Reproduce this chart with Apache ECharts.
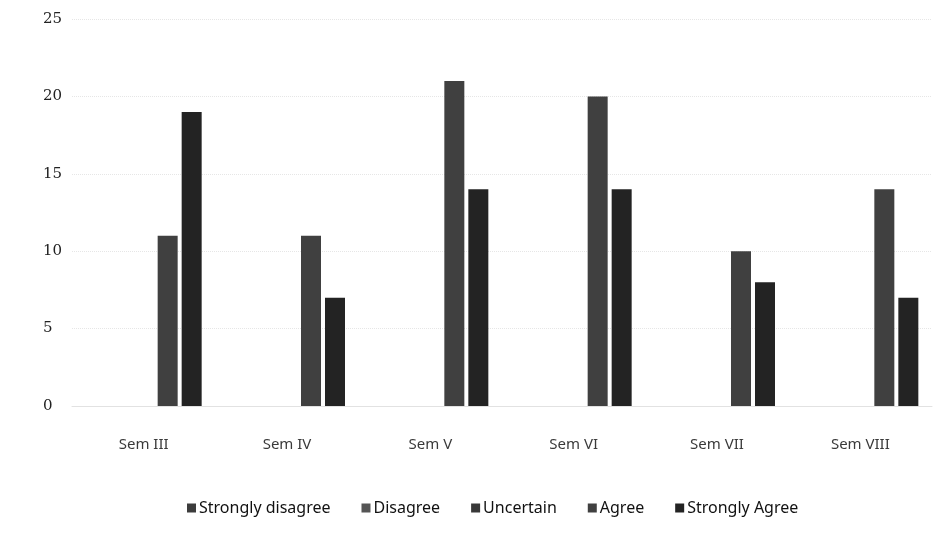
<!DOCTYPE html>
<html>
<head>
<meta charset="utf-8">
<script src="https://cdn.jsdelivr.net/npm/echarts@6/dist/echarts.min.js"></script>
<style>
  html, body { margin: 0; padding: 0; background: #ffffff; }
  #chart { width: 945px; height: 542px; }
</style>
</head>
<body>
<div id="chart"></div>
<script>
// Semesters on the category axis
const semesters = ['Sem III', 'Sem IV', 'Sem V', 'Sem VI', 'Sem VII', 'Sem VIII'];

// Responses per semester for each Likert level
const stronglyDisagree = [0, 0, 0, 0, 0, 0];
const disagree         = [0, 0, 0, 0, 0, 0];
const uncertain        = [0, 0, 0, 0, 0, 0];
const agree            = [11, 11, 21, 20, 10, 14];
const stronglyAgree    = [19, 7, 14, 14, 8, 7];

// Value axis ticks
const yTicks = [0, 5, 10, 15, 20, 25];

const seriesDefs = [
  { name: 'Strongly disagree', data: stronglyDisagree, color: '#3c3c3c' },
  { name: 'Disagree',          data: disagree,         color: '#555555' },
  { name: 'Uncertain',         data: uncertain,        color: '#383838' },
  { name: 'Agree',             data: agree,            color: '#404040' },
  { name: 'Strongly Agree',    data: stronglyAgree,    color: '#232323' }
];

const chart = echarts.init(document.getElementById('chart'), null, { renderer: 'canvas' });

chart.setOption({
  backgroundColor: '#ffffff',
  animation: false,
  grid: { left: 72, right: 13, top: 19, bottom: 136 },
  legend: {
    bottom: 21,
    left: 182,
    icon: 'rect',
    itemWidth: 9,
    itemHeight: 9,
    itemGap: 31,
    textStyle: { fontFamily: 'Noto Sans', fontSize: 16, color: '#111111', padding: [0, 0, 0, -2] },
    data: seriesDefs.map(s => s.name)
  },
  xAxis: {
    type: 'category',
    data: semesters,
    axisLine: { show: true, lineStyle: { color: '#e2e2e2', width: 1 } },
    axisTick: { show: false },
    axisLabel: { margin: 31, fontFamily: 'Noto Sans', fontSize: 15, color: '#3a3a3a' }
  },
  yAxis: {
    type: 'value',
    min: yTicks[0],
    max: yTicks[yTicks.length - 1],
    interval: yTicks[1] - yTicks[0],
    axisLine: { show: false },
    axisTick: { show: false },
    axisLabel: {
      align: 'left',
      margin: 29,
      fontFamily: 'DejaVu Serif',
      fontSize: 15,
      color: '#222222'
    },
    splitLine: { show: true, lineStyle: { color: '#e6e6e6', type: 'dotted', width: 1 } }
  },
  series: seriesDefs.map(s => ({
    name: s.name,
    type: 'bar',
    data: s.data,
    barWidth: 20,
    barGap: '20%',
    itemStyle: { color: s.color }
  }))
});
</script>
</body>
</html>
